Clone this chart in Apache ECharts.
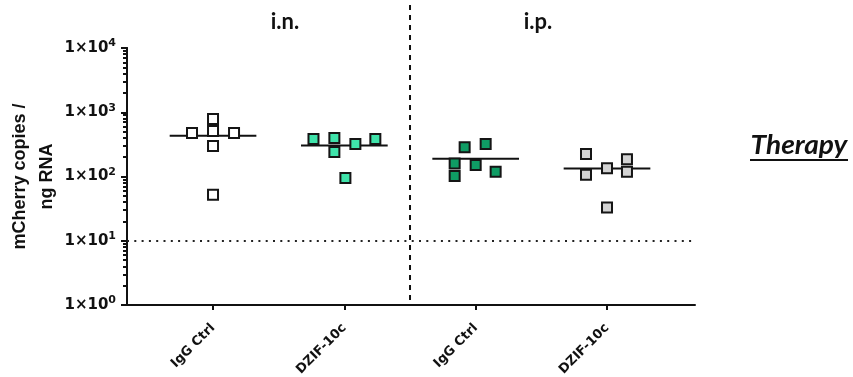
<!DOCTYPE html>
<html><head><meta charset="utf-8">
<script src="https://cdn.jsdelivr.net/npm/echarts@6/dist/echarts.min.js"></script>
<style>html,body{margin:0;padding:0;background:#fff}#c{width:853px;height:377px}</style>
</head><body><div id="c"></div>
<script>
// ---- data ----
const categories = ['IgG Ctrl', 'DZIF-10c', 'IgG Ctrl', 'DZIF-10c'];
const routeLabels = ['i.n.', 'i.p.'];
const igGin = [785, 511, 475, 475, 298, 52];
const jitterIgGin = [0, 0, -0.16, 0.16, 0, 0];
const dzifIn = [384, 397, 241, 321, 384, 95];
const jitterDzifIn = [-0.235, -0.076, -0.076, 0.084, 0.236, 0.008];
const igGip = [285, 320, 160, 102, 151, 119];
const jitterIgGip = [-0.084, 0.076, -0.16, -0.16, 0, 0.152];
const dzifIp = [224, 106, 134, 185, 119, 33];
const jitterDzifIp = [-0.16, -0.16, 0, 0.152, 0.152, 0];
const detectionLimit = 10;
const legendText = 'Therapy';
const yAxisName = 'mCherry copies /\nng RNA';

const groups = [igGin, dzifIn, igGip, dzifIp];
const jitters = [jitterIgGin, jitterDzifIn, jitterIgGip, jitterDzifIp];
const fills = ['#ffffff', '#3fe3aa', '#0f9c64', '#d3d3d3'];

// minor log ticks (2..9 per decade), placed on a helper axis in exponent units
const minorTickExp = [];
for (let d = 0; d < 4; d++) for (let k = 2; k <= 9; k++) minorTickExp.push(d + Math.log10(k));

const mean = a => a.reduce((s, v) => s + v, 0) / a.length;

const series = [];
groups.forEach((g, i) => {
  const m = mean(g);
  series.push({
    type: 'line', xAxisIndex: 0, yAxisIndex: 0, symbol: 'none', z: 2, silent: true,
    data: [[i + 1 - 0.33, m], [i + 1 + 0.33, m]],
    lineStyle: { color: '#111', width: 2 }
  });
  series.push({
    type: 'scatter', xAxisIndex: 0, yAxisIndex: 0, symbol: 'rect', symbolSize: 10, z: 5,
    data: g.map((v, j) => [i + 1 + jitters[i][j], v]),
    itemStyle: { color: fills[i], borderColor: '#151515', borderWidth: 2, opacity: 1 }
  });
});
series.push({
  type: 'line', data: [], xAxisIndex: 0, yAxisIndex: 0, silent: true,
  markLine: {
    symbol: 'none', silent: true, label: { show: false },
    lineStyle: { color: '#222', width: 2, type: [2, 5.3] },
    data: [{ yAxis: detectionLimit }]
  }
});

const chart = echarts.init(document.getElementById('c'), null, { renderer: 'canvas' });
const option = {
  animation: false,
  backgroundColor: '#fff',
  grid: { left: 127, right: 158, top: 48, bottom: 72, outerBoundsMode: 'none', containLabel: false },
  xAxis: {
    type: 'value', min: 0.345, max: 4.67,
    splitLine: { show: false },
    axisLine: { show: true, onZero: false, lineStyle: { color: '#111', width: 2 } },
    axisTick: { show: true, customValues: [1, 2, 3, 4], length: 5, lineStyle: { color: '#111', width: 2 } },
    axisLabel: {
      customValues: [1, 2, 3, 4], rotate: 45, margin: 21,
      formatter: v => categories[Math.round(v) - 1],
      fontFamily: 'DejaVu Sans', fontWeight: 'bold', fontSize: 13, color: '#111'
    }
  },
  yAxis: [{
    type: 'log', logBase: 10, min: 1, max: 10000,
    name: yAxisName, nameLocation: 'middle', nameGap: 66, nameMoveOverlap: false,
    nameTextStyle: { fontFamily: 'Liberation Sans', fontWeight: 'bold', fontSize: 18, color: '#111', lineHeight: 27 },
    splitLine: { show: false },
    axisLine: { show: true, lineStyle: { color: '#111', width: 2 } },
    axisTick: { show: true, length: 6, lineStyle: { color: '#111', width: 2 } },
    axisLabel: {
      margin: 11, fontSize: 15, fontWeight: 'bold', fontFamily: 'DejaVu Sans',
      formatter: v => '{m|1×10}{s|' + Math.round(Math.log10(v)) + '}',
      rich: {
        m: { fontFamily: 'DejaVu Sans', fontWeight: 'bold', fontSize: 15, color: '#111' },
        s: { fontFamily: 'DejaVu Sans', fontWeight: 'bold', fontSize: 11, color: '#111', padding: [0, 0, 9, 0] }
      }
    }
  }, {
    type: 'value', min: 0, max: 4, position: 'left', offset: 0,
    splitLine: { show: false },
    axisLine: { show: true, lineStyle: { color: '#111', width: 2 } },
    axisLabel: { show: false },
    axisTick: { show: true, customValues: minorTickExp, length: 4, lineStyle: { color: '#111', width: 2 } }
  }],
  series: series
};
chart.setOption(option);

const xMid = chart.convertToPixel({ xAxisIndex: 0 }, 2.5);
const yBottom = chart.convertToPixel({ yAxisIndex: 0 }, 1);
chart.setOption({
  graphic: [
    { type: 'line', z: 10, shape: { x1: xMid, y1: 5, x2: xMid, y2: yBottom },
      style: { stroke: '#111', lineWidth: 2, lineDash: [5, 5] } },
    { type: 'text', x: 285, y: 22, style: { text: routeLabels[0], fill: '#111', font: 'bold 22px Lato', align: 'center', verticalAlign: 'middle' } },
    { type: 'text', x: 538, y: 22, style: { text: routeLabels[1], fill: '#111', font: 'bold 22px Lato', align: 'center', verticalAlign: 'middle' } },
    { type: 'text', x: 799, y: 146, scaleX: 1.08, style: { text: legendText, fill: '#111', font: 'italic bold 26px Lato', align: 'center', verticalAlign: 'middle' } },
    { type: 'line', shape: { x1: 750, y1: 160, x2: 848, y2: 160 }, style: { stroke: '#111', lineWidth: 2 } }
  ]
});
</script>
</body></html>
